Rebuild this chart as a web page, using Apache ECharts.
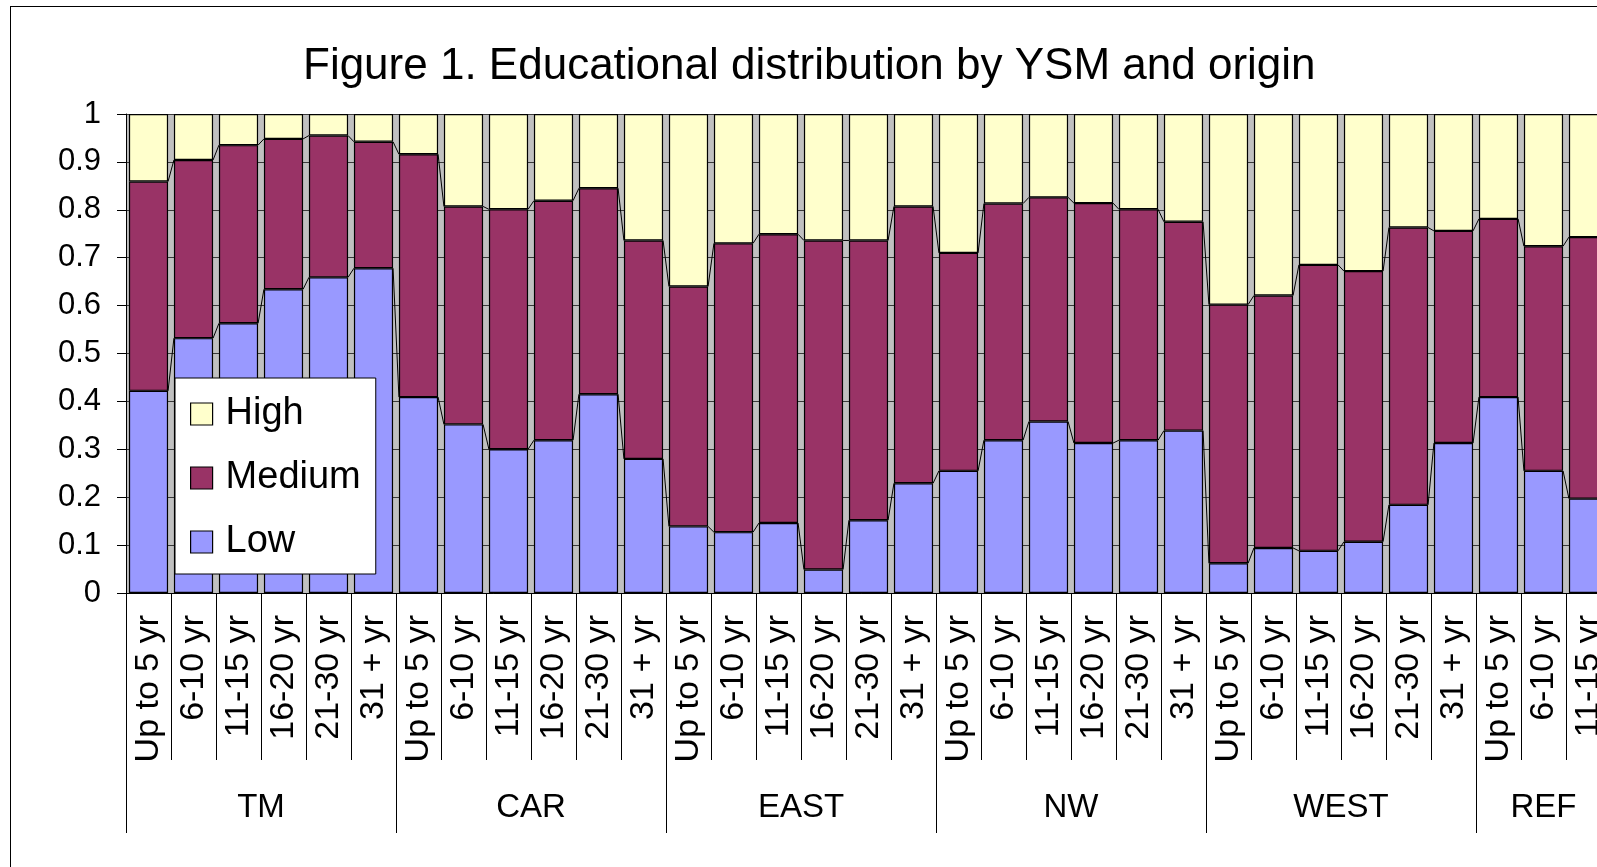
<!DOCTYPE html>
<html>
<head>
<meta charset="utf-8">
<script src="https://cdn.jsdelivr.net/npm/echarts@6/dist/echarts.min.js"></script>
<style>
  html, body { margin: 0; padding: 0; background: #fff; overflow: hidden; }
  #frame {
    position: absolute; left: 10px; top: 6px;
    width: 2000px; height: 2000px;
    border: 1px solid #000;
  }
  #chart { position: absolute; left: 0; top: 0; width: 1597px; height: 867px; }
</style>
</head>
<body>
<div id="frame"></div>
<div id="chart"></div>
<script>
// years since migration bands, repeated inside every origin group
const ysmBands = ['Up to 5 yr', '6-10 yr', '11-15 yr', '16-20 yr', '21-30 yr', '31 + yr']
const origins = ['TM', 'CAR', 'EAST', 'NW', 'WEST', 'REF']
const originSizes = [6, 6, 6, 6, 6, 3]   // REF is cut off after three bands

const low = [
  0.422, 0.532, 0.563, 0.634, 0.659, 0.678,
  0.409, 0.352, 0.300, 0.319, 0.415, 0.280,
  0.139, 0.127, 0.146, 0.049, 0.152, 0.229,
  0.255, 0.319, 0.358, 0.313, 0.319, 0.339,
  0.062, 0.094, 0.088, 0.107, 0.184, 0.313,
  0.409, 0.255, 0.197
]
const medium = [
  0.437, 0.372, 0.372, 0.314, 0.296, 0.264,
  0.507, 0.455, 0.501, 0.500, 0.430, 0.456,
  0.501, 0.603, 0.603, 0.687, 0.584, 0.578,
  0.455, 0.494, 0.468, 0.501, 0.482, 0.436,
  0.540, 0.527, 0.597, 0.565, 0.579, 0.443,
  0.372, 0.469, 0.546
]
const high = [
  0.141, 0.096, 0.065, 0.052, 0.045, 0.058,
  0.084, 0.193, 0.199, 0.181, 0.155, 0.264,
  0.360, 0.270, 0.251, 0.264, 0.264, 0.193,
  0.290, 0.187, 0.174, 0.186, 0.199, 0.225,
  0.398, 0.379, 0.315, 0.328, 0.237, 0.244,
  0.219, 0.276, 0.257
]

const FONT = 'Liberation Sans, Arial, sans-serif'
const GAP = 0.13

const categories = []
const groupEdges = [0]
const groupCenters = []
originSizes.forEach((n, g) => {
  for (let k = 0; k < n; k++) categories.push(ysmBands[k])
  const start = groupEdges[groupEdges.length - 1]
  groupCenters.push(start + n / 2)
  groupEdges.push(start + n)
})

// Excel style series lines: join the tops of neighbouring bars
const lowTop = low
const medTop = low.map((v, i) => v + medium[i])
const seriesLines = []
for (let i = 0; i < categories.length - 1; i++) {
  seriesLines.push([i, lowTop[i], lowTop[i + 1]])
  seriesLines.push([i, medTop[i], medTop[i + 1]])
}

const chart = echarts.init(document.getElementById('chart'))

const barStyle = (color) => ({ color: color, borderColor: '#000', borderWidth: 1.2 })

chart.setOption({
  animation: false,
  title: {
    text: 'Figure 1. Educational distribution by YSM and origin',
    left: 303,
    top: 45,
    padding: 0,
    textStyle: { fontFamily: FONT, fontSize: 44, fontWeight: 'normal', color: '#000', lineHeight: 44 }
  },
  legend: {
    data: ['High', 'Medium', 'Low'],
    orient: 'vertical',
    left: 175,
    top: 378,
    padding: [17, 15, 13, 15],
    itemGap: 26,
    itemWidth: 22,
    itemHeight: 22,
    icon: 'rect',
    backgroundColor: '#fff',
    borderColor: '#000',
    borderWidth: 1,
    itemStyle: { borderColor: '#000', borderWidth: 1.2 },
    textStyle: { fontFamily: FONT, fontSize: 38, lineHeight: 38, color: '#000', padding: [0, 0, 0, 8] },
    selectedMode: false,
    z: 10
  },
  grid: {
    left: 126,
    right: -14,
    top: 114,
    bottom: 274,
    show: true,
    backgroundColor: '#c0c0c0',
    borderWidth: 0,
    outerBoundsMode: 'none',
    containLabel: false
  },
  xAxis: [
    {
      type: 'category',
      position: 'bottom',
      data: categories,
      axisLine: { lineStyle: { color: '#000', width: 1 } },
      axisTick: { show: true, interval: 0, length: 167, lineStyle: { color: '#000', width: 1 } },
      axisLabel: {
        interval: 0,
        rotate: 90,
        margin: 22,
        fontFamily: FONT,
        fontSize: 34,
        color: '#000'
      },
      splitLine: { show: false }
    },
    {
      type: 'value',
      position: 'bottom',
      min: 0,
      max: categories.length,
      axisLine: { show: false },
      axisTick: {
        show: true,
        customValues: groupEdges,
        length: 240,
        lineStyle: { color: '#000', width: 1 }
      },
      axisLabel: {
        customValues: groupCenters,
        margin: 198,
        fontFamily: FONT,
        fontSize: 33,
        color: '#000',
        formatter: (v) => {
          const g = groupCenters.indexOf(v)
          return g >= 0 ? origins[g] : ''
        }
      },
      splitLine: { show: false }
    }
  ],
  yAxis: {
    type: 'value',
    min: 0,
    max: 1,
    interval: 0.1,
    axisLine: { show: true, lineStyle: { color: '#000', width: 1 } },
    axisTick: { show: true, length: 9, lineStyle: { color: '#000' } },
    axisLabel: {
      margin: 25,
      fontFamily: FONT,
      fontSize: 31,
      color: '#000',
      formatter: (v) => String(+v.toFixed(1))
    },
    splitLine: { show: true, lineStyle: { color: '#3a3a3a', width: 1 } }
  },
  series: [
    {
      name: 'Low',
      type: 'bar',
      stack: 'edu',
      data: low,
      barCategoryGap: (GAP * 100) + '%',
      itemStyle: barStyle('#9999ff')
    },
    {
      name: 'Medium',
      type: 'bar',
      stack: 'edu',
      data: medium,
      itemStyle: barStyle('#993366')
    },
    {
      name: 'High',
      type: 'bar',
      stack: 'edu',
      data: high,
      itemStyle: barStyle('#ffffcc')
    },
    {
      name: 'series lines',
      type: 'custom',
      silent: true,
      data: seriesLines,
      encode: { x: 0, y: [1, 2] },
      z: 5,
      renderItem: (params, api) => {
        const i = api.value(0)
        const a = api.coord([i, api.value(1)])
        const b = api.coord([i + 1, api.value(2)])
        const half = api.size([1, 0])[0] * (1 - GAP) / 2
        return {
          type: 'line',
          shape: { x1: a[0] + half, y1: a[1], x2: b[0] - half, y2: b[1] },
          style: { stroke: '#000', lineWidth: 1 }
        }
      }
    }
  ]
})
</script>
</body>
</html>
